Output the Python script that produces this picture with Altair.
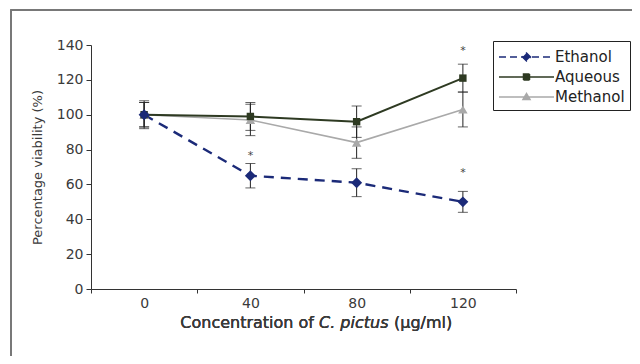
import altair as alt
import pandas as pd

conc = [0, 40, 80, 120]
series_names = ["Ethanol", "Aqueous", "Methanol"]
ethanol = [100, 65, 61, 50]
ethanol_err = [7, 7, 8, 6]
aqueous = [100, 99, 96, 121]
aqueous_err = [7, 8, 9, 8]
methanol = [100, 97, 84, 103]
methanol_err = [8, 9, 9, 10]
star_conc = [40, 120, 120]
star_y = [78, 138, 68]
x_tick_vals = [-20, 0, 20, 40, 60, 80, 100, 120, 140]
y_tick_vals = [0, 20, 40, 60, 80, 100, 120, 140]

colors = ["#1b2a78", "#2e3a22", "#a9a9a9"]
FONT = "DejaVu Sans"
TXT = "#3a3a3a"

rows = []
for name, vals, errs in [("Ethanol", ethanol, ethanol_err),
                         ("Aqueous", aqueous, aqueous_err),
                         ("Methanol", methanol, methanol_err)]:
    for c, v, e in zip(conc, vals, errs):
        rows.append({"series": name, "conc": c, "v": v, "lo": v - e, "hi": v + e})
df = pd.DataFrame(rows)
stars = pd.DataFrame({"conc": star_conc, "y": star_y})

xs = alt.Scale(domain=[-20, 140], nice=False, zero=False)
ys = alt.Scale(domain=[0, 140], nice=False)
cs = alt.Scale(domain=series_names, range=colors)

xaxis = alt.Axis(values=x_tick_vals, grid=False, tickSize=4, domainColor="#333", tickColor="#333",
                 labelExpr="datum.value % 40 == 0 && datum.value >= 0 ? datum.label : ''",
                 tickOpacity={"condition": {"test": "datum.value % 40 == 0 && datum.value >= 0", "value": 0}, "value": 1},
                 labelFont=FONT, labelFontSize=14, labelColor=TXT, labelPadding=3, labelOverlap=False)
yaxis = alt.Axis(values=y_tick_vals, tickSize=5, grid=False, domainColor="#333", tickColor="#333",
                 labelFont=FONT, labelFontSize=14, labelColor=TXT, labelPadding=3, labelOverlap=False,
                 titleFont=FONT, titleFontSize=13, titleFontWeight="normal", titleColor=TXT, titlePadding=12)

X = alt.X("conc:Q", scale=xs, title=None, axis=xaxis)
YT = "Percentage viability (%)"
Yv = alt.Y("v:Q", scale=ys, title=YT, axis=yaxis)
Ylo = alt.Y("lo:Q", scale=ys, title=YT, axis=yaxis)
Yhi = alt.Y("hi:Q", scale=ys, title=YT, axis=yaxis)

leg = alt.Legend(title=None, orient="none", legendX=402, legendY=-4,
                 strokeColor="#222", padding=5, labelFont=FONT, labelFontSize=15,
                 labelColor="#222", symbolSize=400, symbolStrokeWidth=1.5,
                 symbolOpacity=1, rowPadding=1, labelOffset=35)

base = alt.Chart(df)
C = alt.Color("series:N", scale=cs, legend=leg)

layers = []
err = base.mark_rule(color="#222", strokeWidth=1).encode(x=X, y=Ylo, y2="hi:Q")
capl = base.mark_tick(orient="horizontal", size=10, thickness=1, color="#222").encode(x=X, y=Ylo)
caph = base.mark_tick(orient="horizontal", size=10, thickness=1, color="#222").encode(x=X, y=Yhi)
layers += [err, capl, caph]

def sub(name):
    return base.transform_filter(f"datum.series=='{name}'")

line_m = sub("Methanol").mark_line(strokeWidth=1.6).encode(x=X, y=Yv, color=C)
line_a = sub("Aqueous").mark_line(strokeWidth=2).encode(x=X, y=Yv, color=C)
line_e = sub("Ethanol").mark_line(strokeWidth=2.4, strokeDash=[10, 7]).encode(x=X, y=Yv, color=C)
pt_m = sub("Methanol").mark_point(shape="triangle-up", filled=True, size=90, opacity=1).encode(x=X, y=Yv, color=C)
pt_a = sub("Aqueous").mark_point(shape="square", filled=True, size=55, opacity=1).encode(x=X, y=Yv, color=C)
pt_e = sub("Ethanol").mark_point(shape="diamond", filled=True, size=120, opacity=1).encode(x=X, y=Yv, color=C)
layers += [line_m, line_a, line_e, pt_m, pt_a, pt_e]

shape_paths = [
    "M-1,0H4.5M1.75,-0.4L2.15,0L1.75,0.4L1.35,0Z",
    "M-1,0H4.5M1.45,-0.3H2.05V0.3H1.45Z",
    "M-1,0H4.5M1.75,-0.35L2.1,0.25H1.4Z",
]
legend_layer = base.mark_point(filled=True, opacity=0).encode(
    x=X, y=Yv, color=C,
    stroke=alt.Stroke("series:N", scale=cs, legend=leg),
    shape=alt.Shape("series:N", scale=alt.Scale(domain=series_names, range=shape_paths), legend=leg),
    strokeDash=alt.StrokeDash("series:N", scale=alt.Scale(domain=series_names, range=[[7, 4], [1, 0], [1, 0]]), legend=leg),
)
layers.append(legend_layer)

star_layer = alt.Chart(stars).mark_text(text="*", fontSize=11, font=FONT, color="#444", dy=3).encode(
    x=X, y=alt.Y("y:Q", scale=ys, title=YT, axis=yaxis))
layers.append(star_layer)

tb = alt.Chart(stars)
t1 = tb.mark_text(text="Concentration of", font=FONT, fontSize=16, color=TXT, align="right").encode(
    x=alt.value(223), y=alt.value(278))
t2 = tb.mark_text(text="C. pictus", font=FONT, fontSize=16, fontStyle="italic", color=TXT, align="left").encode(
    x=alt.value(228), y=alt.value(278))
t3 = tb.mark_text(text="(\u03bcg/ml)", font=FONT, fontSize=16, color=TXT, align="left").encode(
    x=alt.value(303), y=alt.value(278))
frame = tb.mark_rect(fill=None, stroke="#777", strokeWidth=1.5).encode(
    x=alt.value(-80), x2=alt.value(560), y=alt.value(-35), y2=alt.value(316))
layers += [t1, t2, t3, frame]

chart = alt.layer(*layers).properties(
    width=425, height=244,
    autosize=alt.AutoSizeParams(type="none"),
    padding={"left": 83, "top": 37, "right": 116, "bottom": 67},
    background="white",
).configure_view(stroke=None)

chart.save("out.html", embed_options={"renderer": "svg", "actions": False})
